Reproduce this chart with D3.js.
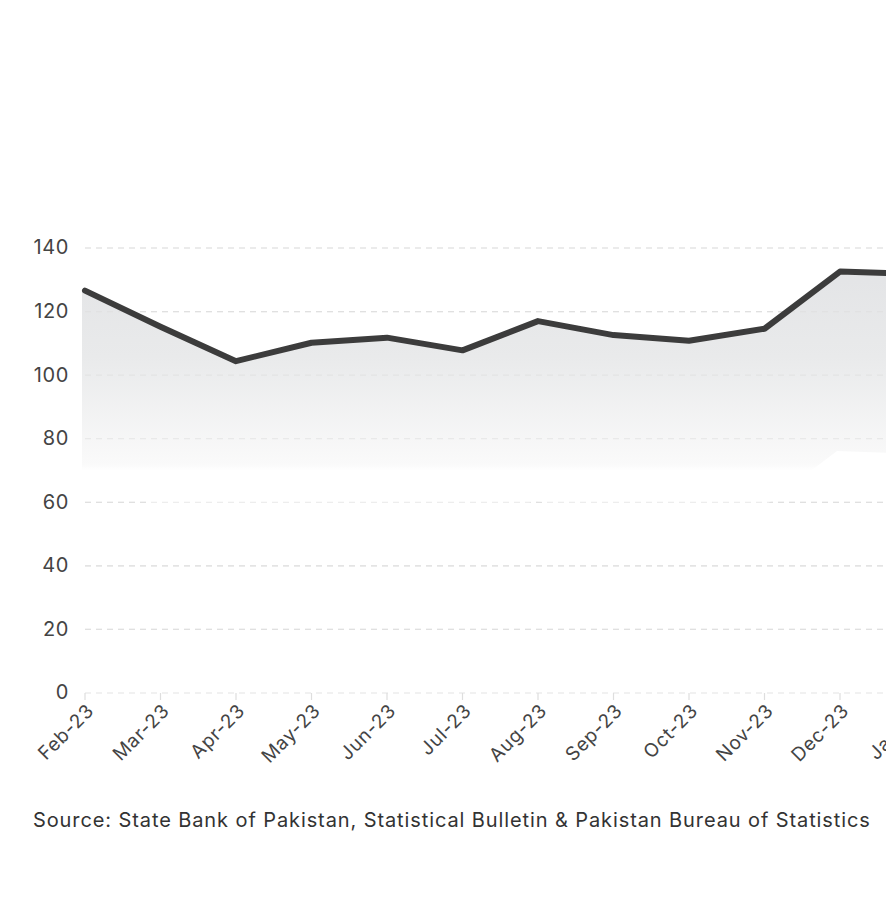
<!DOCTYPE html>
<html>
<head>
<meta charset="utf-8">
<script src="https://cdn.jsdelivr.net/npm/d3@7"></script>
<style>
  body { margin: 0; background: #fff; overflow: hidden; }
  svg { display: block; font-family: Inter, "Noto Sans", sans-serif; }
</style>
</head>
<body>
<script>
// monthly values
const months = ['Feb-23','Mar-23','Apr-23','May-23','Jun-23','Jul-23','Aug-23','Sep-23','Oct-23','Nov-23','Dec-23','Jan-24']
const values = [126.6, 115.2, 104.4, 110.2, 111.8, 107.8, 117.0, 112.6, 110.8, 114.6, 132.6, 131.8]
const yTicks = [0, 20, 40, 60, 80, 100, 120, 140]
const sourceNote = 'Source: State Bank of Pakistan, Statistical Bulletin & Pakistan Bureau of Statistics'

const width = 1000, height = 900
const margin = {top: 248, left: 85, bottom: 207}
const step = 75.5

const data = months.map((m, i) => ({month: m, value: values[i]}))

const svg = d3.select('body').append('svg').attr('width', width).attr('height', height)

const x = d3.scalePoint().domain(months).range([margin.left, margin.left + step * (months.length - 1)])
const y = d3.scaleLinear().domain([0, 140]).range([height - margin.bottom, margin.top])

// gradient for the area under the line
const defs = svg.append('defs')
const grad = defs.append('linearGradient').attr('id', 'fade')
  .attr('gradientUnits', 'userSpaceOnUse')
  .attr('x1', 0).attr('x2', 0).attr('y1', y(135)).attr('y2', y(70))
grad.append('stop').attr('offset', 0).attr('stop-color', '#e3e4e6')
grad.append('stop').attr('offset', 0.45).attr('stop-color', '#e9eaeb')
grad.append('stop').attr('offset', 0.97).attr('stop-color', '#fafafa')
grad.append('stop').attr('offset', 1).attr('stop-color', '#ffffff')

// grid
svg.append('g').selectAll('line').data(yTicks).join('line')
  .attr('x1', margin.left).attr('x2', width)
  .attr('y1', d => y(d)).attr('y2', d => y(d))
  .attr('stroke', '#e4e4e4').attr('stroke-width', 1.2).attr('stroke-dasharray', '6,5')

// area band under the line
const area = d3.area().x(d => x(d.month)).y1(d => y(d.value)).y0(d => y(d.value - 56.5))
svg.append('path').datum(data).attr('d', area).attr('fill', 'url(#fade)')
  .attr('transform', 'translate(-3,0)')

// redraw grid over area faintly
svg.append('g').selectAll('line').data(yTicks.filter(t => t > 0)).join('line')
  .attr('x1', margin.left).attr('x2', width)
  .attr('y1', d => y(d)).attr('y2', d => y(d))
  .attr('stroke', '#dcdcdc').attr('stroke-opacity', 0.5).attr('stroke-width', 1.2).attr('stroke-dasharray', '6,5')

// y labels
svg.append('g').selectAll('text').data(yTicks).join('text')
  .attr('x', 69).attr('y', d => y(d)).attr('dy', '0.32em')
  .attr('text-anchor', 'end').attr('font-size', 20).attr('letter-spacing', 0.6).attr('fill', '#444')
  .text(d => d)

// x ticks and labels
const xg = svg.append('g')
xg.selectAll('line').data(months).join('line')
  .attr('x1', d => x(d)).attr('x2', d => x(d))
  .attr('y1', y(0)).attr('y2', y(0) + 7)
  .attr('stroke', '#dedede').attr('stroke-width', 1.2)
xg.selectAll('text').data(months).join('text')
  .attr('text-anchor', 'end').attr('font-size', 19).attr('letter-spacing', 0.8).attr('fill', '#444')
  .attr('transform', d => 'translate(' + (x(d) + 10) + ',' + (y(0) + 19) + ') rotate(-45)')
  .text(d => d)

// the line
const line = d3.line().x(d => x(d.month)).y(d => y(d.value))
svg.append('path').datum(data).attr('d', line)
  .attr('fill', 'none').attr('stroke', '#3c3c3c').attr('stroke-width', 6)
  .attr('stroke-linejoin', 'round').attr('stroke-linecap', 'round')

svg.append('text').attr('x', 33).attr('y', 827)
  .attr('font-size', 20).attr('letter-spacing', 0.9).attr('fill', '#333').text(sourceNote)
</script>
</body>
</html>
